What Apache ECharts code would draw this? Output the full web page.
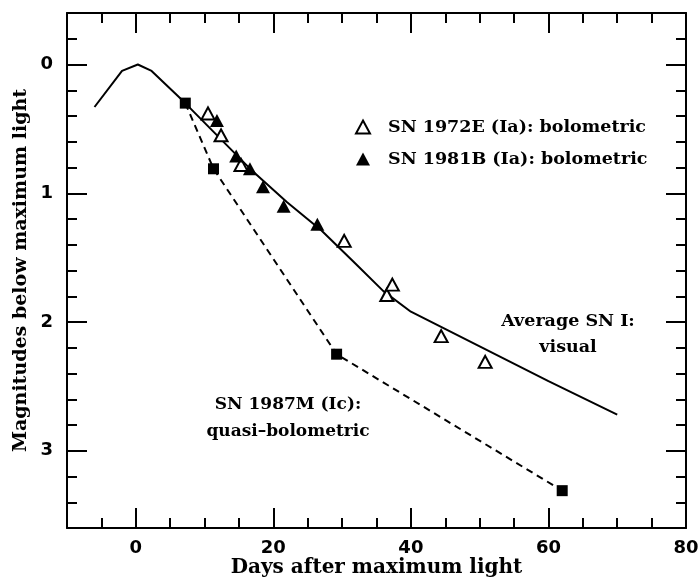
<!DOCTYPE html>
<html>
<head>
<meta charset="utf-8">
<script src="https://cdn.jsdelivr.net/npm/echarts@6/dist/echarts.min.js"></script>
<style>
  html, body { margin: 0; padding: 0; background: #fff; }
  #chart { width: 700px; height: 580px; }
</style>
</head>
<body>
<div id="chart"></div>
<script>
// Average SN I visual light curve
const avgDays = [-6, -2, 0.3, 2.3, 7, 12, 17, 22, 27, 32, 36, 40, 50, 60, 70]
const avgMag = [0.33, 0.05, 0, 0.05, 0.29, 0.56, 0.83, 1.07, 1.29, 1.55, 1.76, 1.92, 2.19, 2.46, 2.72]

// SN 1987M (Ic) quasi-bolometric
const sn87Days = [7.2, 11.3, 29.2, 62.0]
const sn87Mag = [0.30, 0.81, 2.25, 3.31]

// SN 1972E (Ia) bolometric
const sn72Days = [10.5, 12.4, 15.3, 30.3, 36.5, 37.3, 44.4, 50.8]
const sn72Mag = [0.38, 0.55, 0.78, 1.37, 1.79, 1.71, 2.11, 2.31]

// SN 1981B (Ia) bolometric
const sn81Days = [11.8, 14.6, 16.6, 18.5, 21.5, 26.4]
const sn81Mag = [0.435, 0.71, 0.81, 0.95, 1.10, 1.24]

const xMajor = [0, 20, 40, 60, 80]
const yMajor = [0, 1, 2, 3]

const serif = 'DejaVu Serif'
const sans = 'DejaVu Sans'

function pairs(xs, ys) {
  return xs.map((x, i) => [x, ys[i]])
}

// one axis for the long ticks (+ labels), one for the short ticks
function xAxis(position, major, withLabels) {
  const ax = {
    type: 'value',
    position: position,
    min: -10,
    max: 80,
    axisLine: { show: major, onZero: false, lineStyle: { color: '#000', width: 2 } },
    splitLine: { show: false },
    axisTick: {
      show: true,
      inside: true,
      length: major ? 20 : 10,
      lineStyle: { color: '#000', width: 2 }
    },
    axisLabel: { show: false }
  }
  if (major) {
    ax.axisTick.customValues = xMajor
  } else {
    ax.interval = 5
  }
  if (withLabels) {
    ax.axisLabel = {
      show: true,
      customValues: xMajor,
      margin: 11,
      color: '#000',
      fontFamily: sans,
      fontWeight: 'bold',
      fontSize: 18
    }
    ax.name = 'Days after maximum light'
    ax.nameLocation = 'middle'
    ax.nameGap = 30
    ax.nameMoveOverlap = false
    ax.nameTextStyle = { color: '#000', fontFamily: serif, fontWeight: 'bold', fontSize: 20 }
  }
  return ax
}

function yAxis(position, major, withLabels) {
  const ax = {
    type: 'value',
    position: position,
    inverse: true,
    min: -0.4,
    max: 3.6,
    axisLine: { show: major, onZero: false, lineStyle: { color: '#000', width: 2 } },
    splitLine: { show: false },
    axisTick: {
      show: true,
      inside: true,
      length: major ? 20 : 10,
      lineStyle: { color: '#000', width: 2 }
    },
    axisLabel: { show: false }
  }
  if (major) {
    ax.axisTick.customValues = yMajor
  } else {
    ax.interval = 0.2
  }
  if (withLabels) {
    ax.axisLabel = {
      show: true,
      customValues: yMajor,
      margin: 14,
      color: '#000',
      fontFamily: sans,
      fontWeight: 'bold',
      fontSize: 18
    }
    ax.name = 'Magnitudes below maximum light'
    ax.nameLocation = 'middle'
    ax.nameGap = 36
    ax.nameRotate = 90
    ax.nameMoveOverlap = false
    ax.nameTextStyle = { color: '#000', fontFamily: serif, fontWeight: 'bold', fontSize: 19 }
  }
  return ax
}

const chart = echarts.init(document.getElementById('chart'))
chart.setOption({
  animation: false,
  backgroundColor: '#fff',
  grid: { left: 67, right: 14, top: 13, bottom: 52, outerBoundsMode: 'none' },
  xAxis: [
    xAxis('bottom', true, true),
    xAxis('bottom', false, false),
    xAxis('top', true, false),
    xAxis('top', false, false)
  ],
  yAxis: [
    yAxis('left', true, true),
    yAxis('left', false, false),
    yAxis('right', true, false),
    yAxis('right', false, false)
  ],
  legend: {
    orient: 'vertical',
    left: 350,
    top: 113,
    itemWidth: 14,
    itemHeight: 13,
    itemGap: 14,
    data: ['SN 1972E (Ia): bolometric', 'SN 1981B (Ia): bolometric'],
    textStyle: {
      color: '#000',
      fontFamily: serif,
      fontWeight: 'bold',
      fontSize: 17.5,
      padding: [0, 0, 0, 13]
    }
  },
  graphic: [
    {
      type: 'text',
      style: {
        text: 'Average SN I:\nvisual', x: 568, y: 308, align: 'center',
        font: 'bold 17.5px "DejaVu Serif"', lineHeight: 26, fill: '#000'
      }
    },
    {
      type: 'text',
      style: {
        text: 'SN 1987M (Ic):\nquasi\u2013bolometric', x: 288, y: 391, align: 'center',
        font: 'bold 17px "DejaVu Serif"', lineHeight: 27, fill: '#000'
      }
    }
  ],
  series: [
    {
      name: 'Average SN I: visual',
      type: 'line',
      data: pairs(avgDays, avgMag),
      showSymbol: false,
      symbol: 'none',
      lineStyle: { color: '#000', width: 2 },
      z: 2
    },
    {
      name: 'SN 1987M (Ic): quasi-bolometric',
      type: 'line',
      data: pairs(sn87Days, sn87Mag),
      symbol: 'rect',
      symbolSize: 11,
      itemStyle: { color: '#000', opacity: 1 },
      lineStyle: { color: '#000', width: 2, type: [7, 5] },
      z: 3
    },
    {
      name: 'SN 1972E (Ia): bolometric',
      type: 'scatter',
      data: pairs(sn72Days, sn72Mag),
      symbol: 'triangle',
      symbolSize: [13, 12],
      itemStyle: { color: '#fff', borderColor: '#000', borderWidth: 2, opacity: 1 },
      z: 4
    },
    {
      name: 'SN 1981B (Ia): bolometric',
      type: 'scatter',
      data: pairs(sn81Days, sn81Mag),
      symbol: 'triangle',
      symbolSize: [14, 13],
      itemStyle: { color: '#000', opacity: 1 },
      z: 5
    }
  ]
})
</script>
</body>
</html>
